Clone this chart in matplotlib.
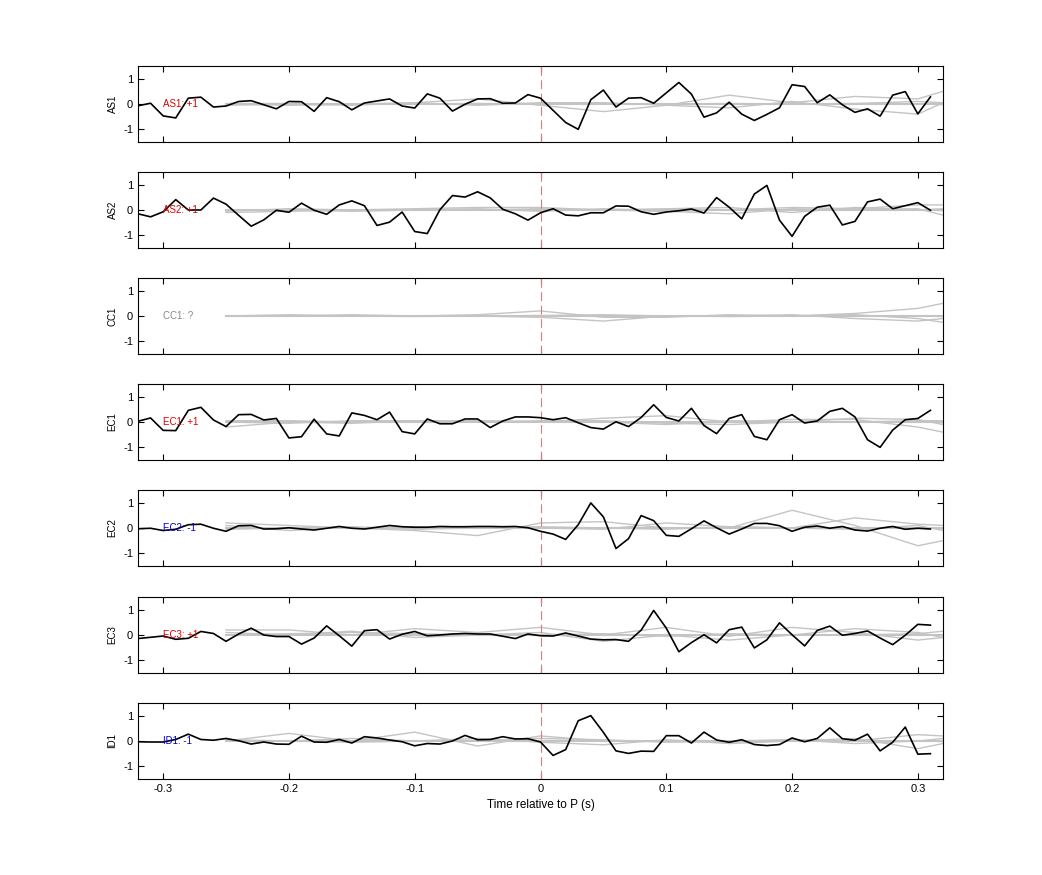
import numpy as np
import matplotlib
matplotlib.use("Agg")
import matplotlib.pyplot as plt
plt.rcParams['font.family'] = ['Liberation Sans', 'DejaVu Sans']
plt.rcParams['axes.unicode_minus'] = False

t = np.round(np.arange(-0.32, 0.315, 0.01), 2)
names = ["AS1", "AS2", "CC1", "EC1", "EC2", "EC3", "ID1"]
labels = ["AS1: +1", "AS2: +1", "CC1: ?", "EC1: +1", "EC2: -1", "EC3: +1", "ID1: -1"]
label_colors = ["#dd0000", "#dd0000", "#888888", "#dd0000", "#0000cc", "#dd0000", "#0000cc"]

AS1 = [-0.07,0.03,-0.47,-0.55,0.23,0.27,-0.12,-0.08,0.1,0.13,-0.03,-0.19,0.1,0.09,-0.29,0.25,
       0.09,-0.23,0.04,0.12,0.2,-0.08,-0.16,0.4,0.23,-0.28,-0.01,0.2,0.21,0.03,0.04,0.37,
       0.23,-0.25,-0.73,-1.0,0.17,0.55,-0.12,0.23,0.25,0.03,0.44,0.85,0.39,-0.52,-0.35,0.07,
       -0.4,-0.65,-0.41,-0.15,0.76,0.69,0.05,0.36,-0.03,-0.33,-0.19,-0.48,0.35,0.49,-0.39,0.28]
AS2 = [-0.15,-0.27,-0.07,0.41,0,0,0.47,0.23,-0.21,-0.64,-0.39,-0.01,-0.09,0.27,-0.01,-0.17,
       0.2,0.36,0.17,-0.61,-0.48,-0.08,-0.85,-0.93,0.01,0.57,0.51,0.72,0.48,0.03,-0.15,-0.4,
       -0.11,0.05,-0.2,-0.23,-0.11,-0.11,0.16,0.15,-0.07,-0.17,-0.08,-0.03,0.04,-0.12,0.49,0.11,
       -0.35,0.63,0.97,-0.4,-1.04,-0.25,0.11,0.19,-0.59,-0.45,0.32,0.43,0.05,0.17,0.29,-0.01]
CC1 = None
EC1 = [0.03,0.16,-0.33,-0.34,0.46,0.58,0.08,-0.18,0.29,0.3,0.08,0.14,-0.63,-0.58,0.11,-0.47,
       -0.55,0.36,0.26,0.09,0.39,-0.38,-0.47,0.12,-0.07,-0.07,0.12,0.12,-0.22,0.04,0.2,0.2,
       0.17,0.09,0.17,-0.03,-0.22,-0.28,0.01,-0.18,0.18,0.68,0.18,0.04,0.54,-0.14,-0.46,0.14,
       0.29,-0.57,-0.7,0.09,0.29,-0.04,0.04,0.42,0.54,0.2,-0.7,-1.0,-0.32,0.09,0.14,0.46]
EC2 = [-0.03,-0.01,-0.1,-0.05,0.13,0.15,-0.01,-0.13,0.09,0.1,-0.04,-0.03,0.01,-0.04,-0.08,-0.01,
       0.06,-0.01,-0.04,0.03,0.1,0.05,0.03,0.03,0.06,0.05,0.05,0.06,0.06,0.05,0.06,0.01,
       -0.13,-0.24,-0.45,0.13,0.99,0.44,-0.81,-0.42,0.49,0.29,-0.29,-0.33,-0.03,0.28,0.01,-0.24,
       -0.04,0.18,0.18,0.09,-0.13,0.03,0.08,-0.01,0.06,-0.08,-0.12,-0.01,0.06,-0.05,-0.01,-0.04]
EC3 = [-0.14,-0.09,-0.04,-0.17,-0.13,0.14,0.06,-0.25,0.04,0.27,0,-0.06,-0.06,-0.36,-0.12,0.36,
       -0.03,-0.44,0.17,0.21,-0.16,0.03,0.14,-0.03,0,0.04,0.06,0.04,0.04,-0.05,-0.14,0.04,
       -0.03,-0.04,0.08,-0.04,-0.16,-0.19,-0.18,-0.25,0.19,0.97,0.27,-0.66,-0.3,0.01,-0.31,0.21,
       0.31,-0.51,-0.19,0.48,0.01,-0.43,0.18,0.35,-0.01,0.06,0.16,-0.12,-0.38,-0.01,0.42,0.39]
ID1 = [-0.03,-0.04,-0.04,0.06,0.27,0.06,0.03,0.1,0.01,-0.12,-0.04,-0.12,-0.13,0.19,-0.04,-0.05,
       0.06,-0.08,0.17,0.12,0.04,-0.03,-0.19,-0.1,-0.12,0,0.22,0.05,0.06,0.17,0.08,0.09,
       -0.04,-0.57,-0.34,0.8,1.0,0.34,-0.39,-0.49,-0.4,-0.41,0.21,0.21,-0.08,0.35,0.04,-0.05,
       0.05,-0.14,-0.18,-0.14,0.12,-0.03,0.1,0.52,0.09,0.03,0.27,-0.39,-0.05,0.55,-0.52,-0.5]
black = [AS1, AS2, CC1, EC1, EC2, EC3, ID1]

# gray reference traces, coarse samples
tg = [-0.25,-0.2,-0.15,-0.1,-0.05,0.0,0.05,0.1,0.15,0.2,0.25,0.3,0.32]
gray = {
 "AS1": [[-0.05,0.0,-0.05,0.05,0.2,-0.05,-0.3,-0.05,0.35,0.05,0.3,0.2,0.5],
         [0.0,-0.05,0.0,0.05,-0.05,0.05,0.05,-0.05,-0.15,0.1,-0.2,-0.4,0.05],
         [0.02,0.02,0.0,0.0,0.02,0.0,0.02,0.0,0.02,0.0,0.02,0.1,0.05]],
 "AS2": [[-0.1,-0.05,0.0,0.05,0.1,0.1,0.0,-0.05,0.0,0.1,0.05,0.2,0.2],
         [0.0,0.0,-0.05,0.0,0.05,-0.05,0.05,-0.05,-0.15,0.05,0.0,0.05,-0.2],
         [-0.05,0.05,0.0,0.0,0.0,0.05,0.0,0.05,0.1,-0.1,0.1,0.0,0.05]],
 "CC1": [[0.0,0.05,0.0,0.0,0.05,0.2,-0.05,-0.05,0.05,0.0,0.1,0.3,0.5],
         [0.0,0.0,0.05,0.0,0.0,-0.05,-0.2,0.0,0.0,0.05,-0.1,-0.2,-0.1],
         [0.0,0.0,0.0,-0.02,0.0,0.02,0.05,0.0,-0.02,0.0,0.05,-0.1,-0.25]],
 "EC1": [[-0.2,0.0,-0.05,0.05,0.05,0.0,0.15,0.25,0.0,0.1,0.1,-0.2,-0.4],
         [0.0,-0.05,0.05,0.05,0.0,0.05,0.05,-0.05,-0.1,0.0,0.15,0.1,-0.1],
         [0.05,0.05,0.0,0.0,0.05,0.0,0.0,-0.1,0.05,0.0,0.0,0.05,0.05]],
 "EC2": [[0.2,0.1,0.0,-0.1,-0.3,0.2,0.25,0.0,0.0,0.7,0.1,-0.7,-0.5],
         [0.1,-0.1,0.05,-0.05,0.0,0.0,-0.05,0.2,0.05,0.0,0.4,0.15,0.1],
         [-0.05,0.0,0.0,0.05,0.0,0.05,0.0,-0.05,0.05,0.0,-0.05,0.1,-0.1]],
 "EC3": [[0.2,0.2,0.0,0.25,0.1,0.3,0.0,0.3,-0.05,0.3,0.1,-0.2,-0.1],
         [0.1,0.0,0.15,-0.1,0.0,0.1,-0.25,0.0,-0.2,0.0,0.25,0.1,-0.1],
         [0.0,0.05,0.1,0.05,0.0,0.0,0.05,-0.05,0.05,0.0,0.0,0.05,0.15]],
 "ID1": [[0.0,0.3,0.0,0.35,-0.2,0.2,0.0,0.0,-0.05,0.05,0.0,0.25,0.2],
         [0.0,0.0,0.1,0.0,0.1,-0.05,-0.15,0.05,-0.1,0.0,0.1,-0.3,-0.1],
         [0.05,0.0,-0.05,0.0,0.0,0.1,0.05,-0.05,0.0,0.05,-0.1,0.0,0.1]],
}

fig = plt.figure(figsize=(10.42, 8.75), dpi=100)
tops = [66, 172, 278, 384, 490, 597, 703]
h = 76
for i, name in enumerate(names):
    ax = fig.add_axes([138/1042, 1 - (tops[i]+h)/875, 805/1042, h/875])
    for g in gray[name]:
        ax.plot(tg, g, color="#c4c4c4", lw=1)
    ax.axhline(0, color="#c4c4c4", lw=1.5, xmin=(0.07)/0.64, xmax=1)
    ax.axvline(0, color="#d08080", lw=0.8, ls=(0, (8, 4)))
    if black[i] is not None:
        ax.plot(t, black[i], color="black", lw=1.2)
    ax.text(-0.30, 0, labels[i], color=label_colors[i], fontsize=7, va="center", ha="left")
    ax.set_xlim(-0.32, 0.32)
    ax.set_ylim(-1.5, 1.5)
    ax.set_yticks([-1, 0, 1])
    ax.set_xticks([-0.3, -0.2, -0.1, 0, 0.1, 0.2, 0.3])
    ax.tick_params(direction="in", top=True, right=True, labelsize=8, length=4)
    ax.set_ylabel(name, fontsize=7)
    if i < len(names) - 1:
        ax.set_xticklabels([])
    else:
        ax.set_xticklabels(["-0.3", "-0.2", "-0.1", "0", "0.1", "0.2", "0.3"])
        ax.set_xlabel("Time relative to P (s)", fontsize=8.5)
fig.savefig("out.png", dpi=100)
